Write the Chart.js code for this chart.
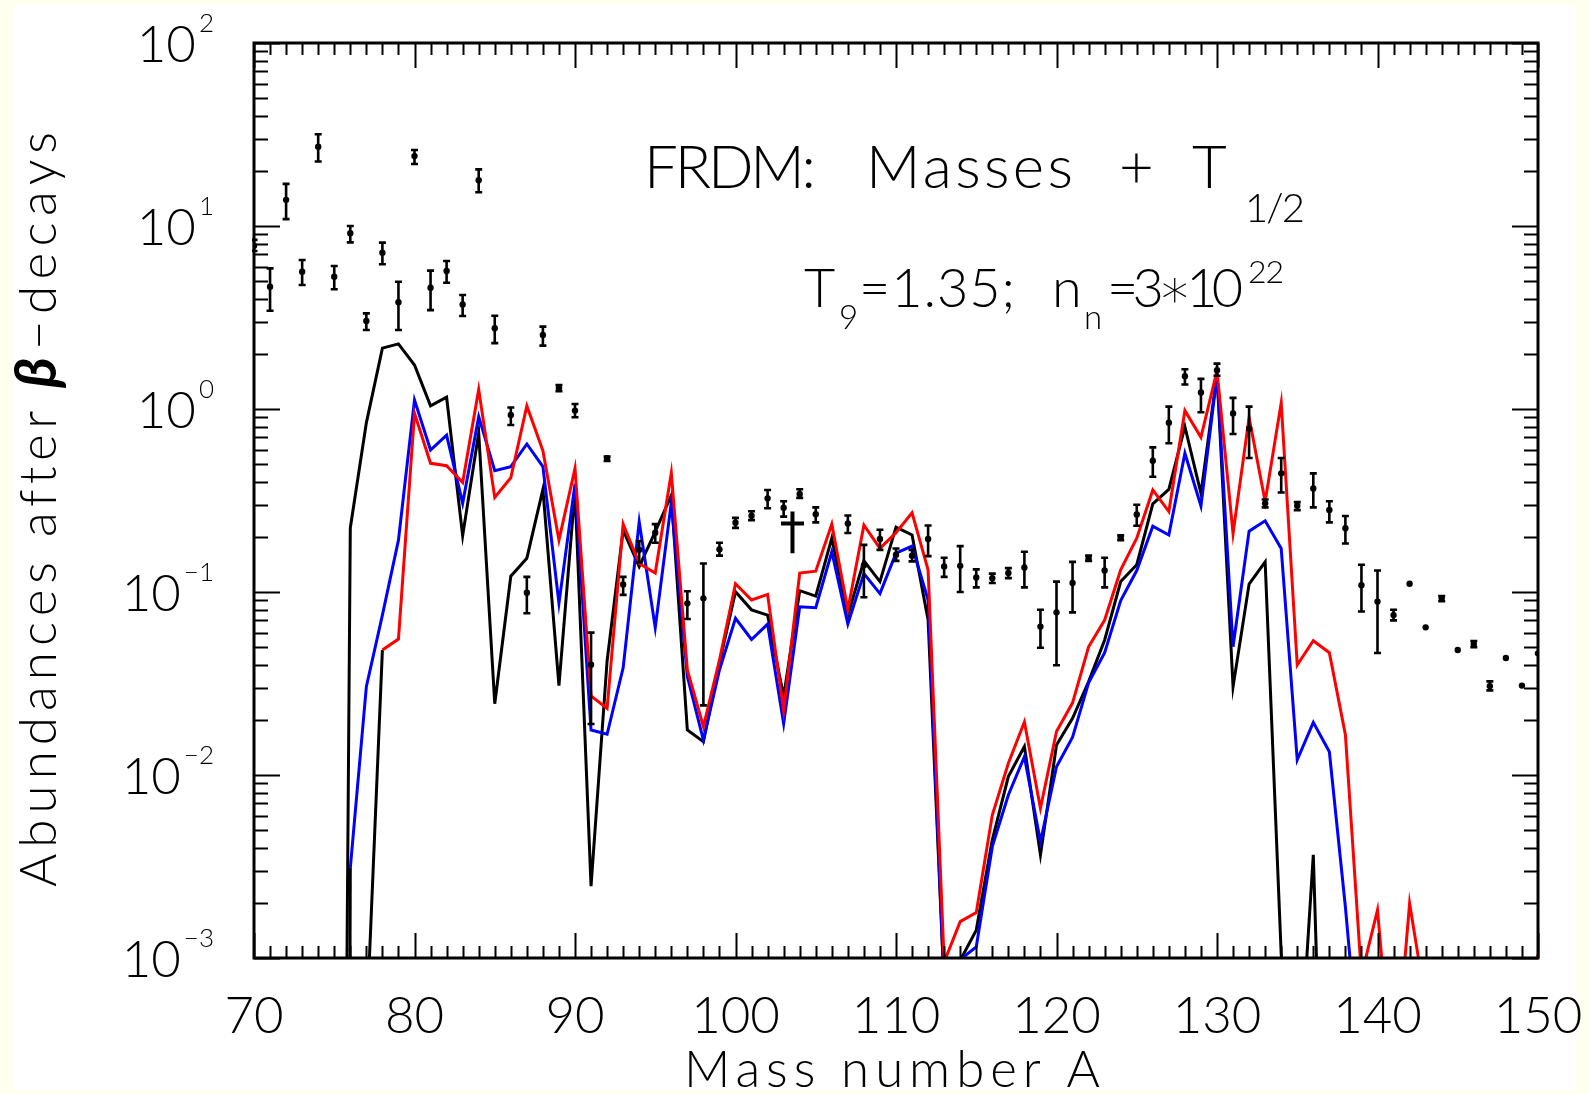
<!DOCTYPE html>
<html>
<head>
<meta charset="utf-8">
<title>FRDM abundances after beta-decays</title>
<script src="https://cdn.jsdelivr.net/npm/chart.js@4.4.1/dist/chart.umd.min.js"></script>
<style>
  html, body { margin: 0; padding: 0; background: #fffff0; }
  #wrap { width: 1589px; height: 1094px; }
</style>
</head>
<body>
<div id="wrap"><canvas id="c" width="1589" height="1094"></canvas></div>
<script>
// Mass numbers A = 70 ... 150
const massNumber = [70,71,72,73,74,75,76,77,78,79,80,81,82,83,84,85,86,87,88,89,
  90,91,92,93,94,95,96,97,98,99,100,101,102,103,104,105,106,107,108,109,
  110,111,112,113,114,115,116,117,118,119,120,121,122,123,124,125,126,127,128,129,
  130,131,132,133,134,135,136,137,138,139,140,141,142,143,144,145,146,147,148,149,150];

// Calculated abundances (null = not computed); values below 1e-3 fall under the frame
const abundBlack = [null,null,null,null,null,1e-12,0.224,0.84,2.15,2.27,1.74,1.04,1.16,0.203,0.74,0.0245,0.122,0.153,0.364,0.0308,
  0.36,0.00247,0.042,0.218,0.1375,0.214,0.337,0.0176,0.0152,0.041,0.1004,0.0799,0.0748,0.0268,0.1017,0.095,0.197,0.0748,0.148,0.114,
  0.226,0.205,0.0703,0.0007,0.00097,0.00142,0.00442,0.0098,0.0143,0.00366,0.0146,0.0204,0.0324,0.0547,0.114,0.141,0.303,0.364,0.80,0.346,
  1.55,0.0304,0.1106,0.146,0.00105,0.00015,0.00366,0.000005,null,null,null,null,null,null,null,null,null,null,null,null,null];

const abundBlue = [null,null,null,null,null,1e-30,0.0031,0.0304,0.0748,0.192,1.12,0.597,0.72,0.305,0.908,0.46,0.484,0.644,0.484,0.0867,
  0.39,0.0176,0.0167,0.0385,0.242,0.0638,0.308,0.0345,0.0155,0.0375,0.0718,0.055,0.0668,0.0191,0.083,0.082,0.166,0.0668,0.126,0.098,
  0.163,0.178,0.0904,0.0007,0.00098,0.00115,0.00406,0.00778,0.0126,0.00432,0.0111,0.0161,0.0319,0.0466,0.0897,0.131,0.229,0.205,0.573,0.295,
  1.53,0.0502,0.215,0.245,0.173,0.0121,0.0194,0.0134,0.0019,0.0002,null,null,null,null,null,null,null,null,null,null,null];

const abundRed = [null,null,null,null,null,null,null,0.0004,0.0482,0.0553,0.946,0.505,0.49,0.396,1.28,0.329,0.421,1.04,0.592,0.192,
  0.474,0.027,0.0231,0.235,0.143,0.127,0.447,0.0375,0.0184,0.0425,0.111,0.0904,0.097,0.0226,0.127,0.130,0.235,0.080,0.232,0.173,
  0.211,0.271,0.132,0.00095,0.00158,0.00177,0.00604,0.0116,0.0195,0.00658,0.0173,0.0248,0.0502,0.0703,0.132,0.197,0.361,0.275,0.98,0.70,
  1.62,0.209,0.90,0.312,1.08,0.0399,0.0542,0.0466,0.0166,0.0008,0.00183,0.00018,0.00199,0.00057,1e-6,1e-6,1e-6,1e-6,1e-6,1e-6,0.00105];

// Solar r-process abundances with error bars
const solarA   = [70,71,72,73,74,75,76,77,78,79,80,81,82,83,84,85,86,87,88,89,90,91,92,93,94,95,
  97,98,99,100,101,102,103,104,105,107,108,109,110,111,112,113,114,115,116,117,118,119,120,121,122,123,124,125,
  126,127,128,129,130,131,132,133,134,135,136,137,138,139,140,141,142,143,144,145,146,147,148,149,150];
const solarVal = [7.8,4.66,13.9,5.63,27.1,5.28,9.12,3.03,7.15,3.83,24.1,4.6,5.68,3.73,17.8,2.76,0.927,0.099,2.54,1.30,0.98,0.040,0.538,0.110,0.17,0.211,
  0.0867,0.0923,0.171,0.239,0.261,0.325,0.289,0.343,0.266,0.237,0.14,0.195,0.16,0.158,0.195,0.138,0.139,0.120,0.119,0.127,0.136,0.0647,0.0774,0.112,0.153,0.131,0.198,0.265,
  0.522,0.842,1.51,1.23,1.63,0.946,0.78,0.305,0.445,0.296,0.368,0.281,0.223,0.109,0.0886,0.0748,0.111,0.0641,0.0923,0.0482,0.052,0.0306,0.0436,0.0308,0.0462];
const solarLo  = [7.3,3.44,10.9,4.76,22.5,4.51,8.14,2.70,6.18,2.70,21.8,3.47,4.9,3.22,15.3,2.29,0.818,0.0765,2.22,1.25,0.902,0.019,0.52,0.0965,0.145,0.186,
  0.0712,0.024,0.158,0.224,0.247,0.287,0.258,0.327,0.24,0.21,0.0936,0.17,0.148,0.147,0.157,0.121,0.100,0.106,0.112,0.119,0.106,0.0496,0.0398,0.0774,0.148,0.106,0.192,0.23,
  0.426,0.65,1.36,0.96,1.52,0.73,0.54,0.29,0.35,0.28,0.29,0.24,0.184,0.0783,0.0464,0.070,0.111,0.0641,0.089,0.0482,0.050,0.029,0.0436,0.0308,0.0462];
const solarHi  = [8.4,5.87,17.0,6.52,31.7,6.04,10.0,3.33,8.11,4.96,26.0,5.7,6.44,4.2,20.4,3.23,1.02,0.121,2.82,1.35,1.064,0.060,0.55,0.121,0.19,0.235,
  0.101,0.143,0.186,0.254,0.276,0.361,0.313,0.364,0.29,0.262,0.181,0.219,0.173,0.17,0.231,0.154,0.178,0.133,0.126,0.135,0.166,0.080,0.114,0.146,0.158,0.154,0.204,0.30,
  0.617,1.03,1.65,1.46,1.77,1.15,1.03,0.32,0.54,0.31,0.445,0.313,0.26,0.141,0.131,0.080,0.111,0.0641,0.095,0.0482,0.054,0.0325,0.0436,0.0308,0.0462];

// Axis ticks
const xTickLabels = [70,80,90,100,110,120,130,140,150];
const yTickExponents = [-3,-2,-1,0,1,2];

// Dagger marker near A = 103-104
const daggerMass = 103.55, daggerTop = 0.275, daggerFoot = 0.163, daggerBar = 0.237;

const FAM = 'Lato, "DejaVu Sans", sans-serif';

function series(values) {
  const out = [];
  values.forEach((v, i) => { if (v !== null) out.push({ x: massNumber[i], y: v }); });
  return out;
}
const solarPoints = solarA.map((a, i) => ({ x: a, y: solarVal[i] }));

function fitText(ctx, str, xl, xr, base, size, weight) {
  ctx.font = (weight || '300') + ' ' + size + 'px ' + FAM;
  ctx.letterSpacing = '0px';
  const n = [...str].length;
  let ls = 0;
  if (n > 1 && xr != null) ls = ((xr - xl) - ctx.measureText(str).width) / (n - 1);
  ctx.letterSpacing = ls + 'px';
  ctx.textAlign = 'left';
  ctx.textBaseline = 'alphabetic';
  ctx.fillText(str, xl, base);
  ctx.letterSpacing = '0px';
}

const background = {
  id: 'background',
  beforeDraw(chart) {
    const ctx = chart.ctx;
    ctx.save();
    ctx.fillStyle = '#fffff0';
    ctx.fillRect(0, 0, chart.width, chart.height);
    ctx.fillStyle = '#ffffff';
    ctx.fillRect(14, 5, 1562, 1085);
    ctx.restore();
  }
};

const errorBars = {
  id: 'errorBars',
  afterDatasetsDraw(chart) {
    const ctx = chart.ctx, xs = chart.scales.x, ys = chart.scales.y, a = chart.chartArea;
    ctx.save();
    ctx.beginPath();
    ctx.rect(a.left - 2, a.top, a.right - a.left + 4, a.bottom - a.top);
    ctx.clip();
    ctx.strokeStyle = '#000';
    ctx.lineWidth = 2.6;
    solarA.forEach((m, i) => {
      if (solarHi[i] <= solarLo[i]) return;
      const x = xs.getPixelForValue(m);
      const y1 = ys.getPixelForValue(solarLo[i]);
      const y2 = ys.getPixelForValue(solarHi[i]);
      ctx.beginPath();
      ctx.moveTo(x, y1); ctx.lineTo(x, y2);
      ctx.moveTo(x - 3.5, y1); ctx.lineTo(x + 3.5, y1);
      ctx.moveTo(x - 3.5, y2); ctx.lineTo(x + 3.5, y2);
      ctx.stroke();
    });
    // dagger
    const dx = xs.getPixelForValue(daggerMass);
    ctx.lineWidth = 4;
    ctx.beginPath();
    ctx.moveTo(dx, ys.getPixelForValue(daggerTop));
    ctx.lineTo(dx, ys.getPixelForValue(daggerFoot));
    const by = ys.getPixelForValue(daggerBar);
    ctx.moveTo(dx - 11.5, by); ctx.lineTo(dx + 11.5, by);
    ctx.stroke();
    ctx.restore();
  }
};

const frameAndText = {
  id: 'frameAndText',
  afterDraw(chart) {
    const ctx = chart.ctx, xs = chart.scales.x, ys = chart.scales.y, a = chart.chartArea;
    ctx.save();
    ctx.strokeStyle = '#000';
    ctx.fillStyle = '#000';
    // x ticks (inward, top and bottom)
    ctx.lineWidth = 2;
    ctx.beginPath();
    for (let m = xs.min; m <= xs.max; m += 1) {
      const x = Math.round(xs.getPixelForValue(m)) + 0.5;
      const len = (m % 10 === 0) ? 25 : 12;
      ctx.moveTo(x, a.bottom); ctx.lineTo(x, a.bottom - len);
      ctx.moveTo(x, a.top); ctx.lineTo(x, a.top + len);
    }
    // y ticks (inward, left and right)
    yTickExponents.forEach(e => {
      for (let k = 1; k <= 9; k++) {
        const v = k * Math.pow(10, e);
        if (v > ys.max * 1.0001) break;
        const y = Math.round(ys.getPixelForValue(v)) + 0.5;
        const len = (k === 1) ? 26 : 14;
        ctx.moveTo(a.left, y); ctx.lineTo(a.left + len, y);
        ctx.moveTo(a.right, y); ctx.lineTo(a.right - len, y);
      }
    });
    ctx.stroke();
    // frame
    ctx.lineWidth = 3;
    ctx.strokeRect(a.left, a.top, a.right - a.left, a.bottom - a.top);

    // x tick labels
    ctx.font = '300 51px ' + FAM;
    ctx.textAlign = 'center';
    ctx.textBaseline = 'alphabetic';
    xTickLabels.forEach(v => {
      ctx.fillText(String(v), xs.getPixelForValue(v), 1033);
    });

    // y tick labels: 10 with exponent
    yTickExponents.forEach(e => {
      const y = ys.getPixelForValue(Math.pow(10, e));
      const sup = e < 0 ? '\u2212' + Math.abs(e) : String(e);
      ctx.textAlign = 'left';
      ctx.font = '300 26px ' + FAM;
      const supW = ctx.measureText(sup).width;
      ctx.font = '300 51px ' + FAM;
      const baseW = ctx.measureText('10').width;
      const right = 214;
      ctx.fillText('10', right - supW - 3 - baseW, y + 18.5);
      ctx.font = '300 26px ' + FAM;
      ctx.fillText(sup, right - supW, y - 11);
    });

    // x axis title
    fitText(ctx, 'Mass number A', 684, 1100, 1087, 51);

    // y axis title (rotated)
    ctx.save();
    ctx.translate(56, 0);
    ctx.rotate(-Math.PI / 2);
    fitText(ctx, 'Abundances', -887, -562, 0, 51);
    fitText(ctx, 'after', -537, -412, 0, 51);
    ctx.font = 'italic 700 58px ' + FAM;
    ctx.fillText('\u03b2', -388, 0);
    fitText(ctx, '\u2212decays', -350, -132, 0, 51);
    ctx.restore();

    // model annotation
    fitText(ctx, 'FRDM:', 644, 816, 188, 60);
    fitText(ctx, 'Masses', 866, 1073, 188, 60);
    fitText(ctx, '+', 1119, null, 188, 60);
    fitText(ctx, 'T', 1192, null, 188, 60);
    fitText(ctx, '1/2', 1245, 1305, 222, 40);

    fitText(ctx, 'T', 804, null, 307, 54);
    fitText(ctx, '9', 839, null, 329, 33);
    fitText(ctx, '=1.35;', 859, 1015, 307, 54);
    fitText(ctx, 'n', 1052, null, 307, 54);
    fitText(ctx, 'n', 1084, null, 329, 33);
    fitText(ctx, '=3\u221710', 1107, 1243, 307, 54);
    fitText(ctx, '22', 1248, 1284, 283, 32);
    ctx.restore();
  }
};

new Chart(document.getElementById('c'), {
  type: 'line',
  data: {
    datasets: [
      {
        type: 'scatter',
        data: solarPoints,
        showLine: false,
        pointRadius: 3.2,
        pointBackgroundColor: '#000',
        pointBorderWidth: 0,
        order: 0
      },
      {
        data: series(abundRed),
        borderColor: '#ff0000',
        borderWidth: 3,
        pointRadius: 0,
        tension: 0,
        segment: { borderColor: c => c.p0DataIndex === 0 ? '#000000' : '#ff0000' },
        order: 1
      },
      {
        data: series(abundBlue),
        borderColor: '#0000ff',
        borderWidth: 3,
        pointRadius: 0,
        tension: 0,
        segment: { borderColor: c => c.p0DataIndex === 0 ? '#000000' : '#0000ff' },
        order: 2
      },
      {
        data: series(abundBlack),
        borderColor: '#000000',
        borderWidth: 3,
        pointRadius: 0,
        tension: 0,
        order: 3
      }
    ]
  },
  options: {
    responsive: false,
    animation: false,
    devicePixelRatio: 1,
    layout: { padding: { left: 254, top: 43, right: 51, bottom: 136 } },
    plugins: { legend: { display: false }, tooltip: { enabled: false } },
    scales: {
      x: { type: 'linear', min: 70, max: 150, display: false },
      y: { type: 'logarithmic', min: 0.001, max: 100, display: false }
    }
  },
  plugins: [background, errorBars, frameAndText]
});
</script>
</body>
</html>
